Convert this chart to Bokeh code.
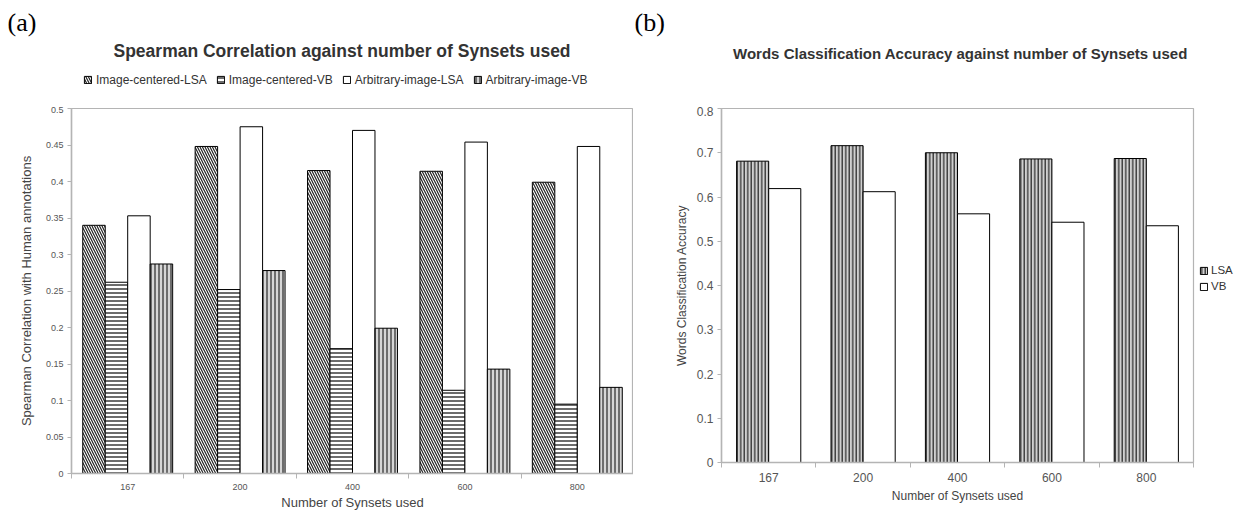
from bokeh.plotting import figure
from bokeh.models import Legend, LegendItem, Label, FixedTicker
from bokeh.layouts import row, column
from bokeh.embed import file_html
from bokeh.resources import INLINE

# ---------------- data ----------------
synsets = ["167", "200", "400", "600", "800"]

series_a = ["Image-centered-LSA", "Image-centered-VB", "Arbitrary-image-LSA", "Arbitrary-image-VB"]
img_lsa = [0.340, 0.448, 0.415, 0.414, 0.399]
img_vb = [0.262, 0.252, 0.171, 0.114, 0.095]
arb_lsa = [0.353, 0.475, 0.470, 0.454, 0.448]
arb_vb = [0.287, 0.278, 0.199, 0.143, 0.118]
y_ticks_a = [0, 0.05, 0.1, 0.15, 0.2, 0.25, 0.3, 0.35, 0.4, 0.45, 0.5]

series_b = ["LSA", "VB"]
acc_lsa = [0.681, 0.716, 0.700, 0.686, 0.687]
acc_vb = [0.619, 0.612, 0.562, 0.543, 0.535]
y_ticks_b = [0, 0.1, 0.2, 0.3, 0.4, 0.5, 0.6, 0.7, 0.8]

title_a = "Spearman Correlation against number of Synsets used"
title_b = "Words Classification Accuracy against number of Synsets used"
xlabel = "Number of Synsets used"
ylabel_a = "Spearman Correlation with Human annotations"
ylabel_b = "Words Classification Accuracy"

FONT = "Liberation Sans"
SERIF = "Liberation Serif"
GRAY = "#b4b4b4"
BASE = dict(output_backend="svg", toolbar_location=None, frame_align=False)

n = len(synsets)
cat_ticks = [i + 0.5 for i in range(n)]
cat_bounds = list(range(n + 1))
cat_labels = {i + 0.5: s for i, s in enumerate(synsets)}

HDR_H = 106      # height of the header strip holding titles / legend
W_A = 633        # width of chart (a)
W_B_MAIN = 562   # width of chart (b) plot
W_B_LEG = 1258 - W_A - W_B_MAIN
MAIN_H = 515 - HDR_H


def blank(width, height, xr, yr):
    p = figure(width=width, height=height, x_range=xr, y_range=yr,
               x_axis_type=None, y_axis_type=None,
               min_border_left=0, min_border_right=0, min_border_top=0, min_border_bottom=0, **BASE)
    p.outline_line_color = None
    p.xgrid.visible = False
    p.ygrid.visible = False
    return p


def style_axes(p, tick_font, xlab, ylab, label_font, yticks, ylab_standoff, xlab_standoff, xtick_standoff):
    p.xgrid.visible = False
    p.ygrid.visible = False
    p.outline_line_color = GRAY
    p.outline_line_width = 1.2
    for ax in (p.xaxis[0], p.yaxis[0]):
        ax.axis_line_color = GRAY
        ax.axis_line_width = 1.5
        ax.major_label_text_font = FONT
        ax.major_label_text_font_size = tick_font
        ax.major_label_text_color = "#555555"
        ax.axis_label_text_font = FONT
        ax.axis_label_text_font_size = label_font
        ax.axis_label_text_font_style = "normal"
        ax.axis_label_text_color = "#444444"
    xa = p.xaxis[0]
    xa.ticker = FixedTicker(ticks=cat_ticks, minor_ticks=cat_bounds)
    xa.major_label_overrides = cat_labels
    xa.major_tick_line_color = None
    xa.major_tick_out = 0
    xa.major_tick_in = 0
    xa.minor_tick_line_color = GRAY
    xa.minor_tick_out = 5
    xa.minor_tick_in = 0
    xa.major_label_standoff = xtick_standoff
    xa.axis_label = xlab
    xa.axis_label_standoff = xlab_standoff
    ya = p.yaxis[0]
    ya.ticker = FixedTicker(ticks=yticks, minor_ticks=[])
    ya.major_label_overrides = {t: f"{t:g}" for t in yticks}
    ya.major_tick_line_color = GRAY
    ya.major_tick_out = 4
    ya.major_tick_in = 0
    ya.minor_tick_line_color = None
    ya.major_label_standoff = 4
    ya.axis_label = ylab
    ya.axis_label_standoff = ylab_standoff


a_style = [
    dict(fill_color="white", hatch_pattern="\\", hatch_color="#222222", hatch_scale=5, hatch_weight=1.2),
    dict(fill_color="white", hatch_pattern="-", hatch_color="#3a3a3a", hatch_scale=4, hatch_weight=1.5),
    dict(fill_color="white"),
    dict(fill_color="#d6d6d6", hatch_pattern="|", hatch_color="#333333", hatch_scale=4, hatch_weight=1.3),
]
b_style = [
    dict(fill_color="#d0d0d0", hatch_pattern="|", hatch_color="#222222", hatch_scale=3.5, hatch_weight=1.2),
    dict(fill_color="white"),
]

LEG_COMMON = dict(glyph_width=9, glyph_height=9, label_height=9, padding=0, margin=0,
                  border_line_alpha=0, background_fill_alpha=0, inactive_fill_alpha=0,
                  label_text_font=FONT, label_text_color="#333333")

# ---------------- chart (a) ----------------
pa = figure(width=W_A, height=MAIN_H, x_range=(0, n), y_range=(0, 0.5),
            min_border_left=71, min_border_right=0, min_border_top=2, min_border_bottom=42, **BASE)
style_axes(pa, "9px", xlabel, ylabel_a, "13px", y_ticks_a, 9, 2, 5)

a_values = [img_lsa, img_vb, arb_lsa, arb_vb]
bw_a = 0.2
for k, (vals, st) in enumerate(zip(a_values, a_style)):
    xs = [i + 0.1 + bw_a * k + bw_a / 2 for i in range(n)]
    pa.vbar(x=xs, top=vals, width=bw_a, line_color="black", line_width=1, **st)

# header of (a): page-pixel coordinates (y downwards)
ha = blank(W_A, HDR_H, (0, W_A), (HDR_H, 0))
ha.add_layout(Label(x=7, y=7, text="(a)", text_font=SERIF, text_font_size="26px",
                    text_align="left", text_baseline="top", text_color="black"))
ha.add_layout(Label(x=113, y=50, text=title_a, text_font=FONT, text_font_size="17.5px",
                    text_font_style="bold", text_align="left", text_baseline="middle",
                    text_color="#333333"))
# legend swatches: hidden stand-in renderers carrying each series' style
a_items = []
for name, st in zip(series_a, a_style):
    r = ha.vbar(x=[10], top=[50], bottom=0, width=1, line_color="black", line_width=1,
                visible=False, **st)
    a_items.append(LegendItem(label=name, renderers=[r]))
ha.add_layout(Legend(items=a_items, orientation="horizontal", location=(83, 19.5),
                     label_standoff=4, spacing=9, label_text_font_size="12px",
                     **LEG_COMMON), "center")

# ---------------- chart (b) ----------------
pb = figure(width=W_B_MAIN, height=MAIN_H, x_range=(0, n), y_range=(0, 0.8),
            min_border_left=88, min_border_right=2, min_border_top=2, min_border_bottom=53, **BASE)
style_axes(pb, "12px", xlabel, ylabel_b, "12px", y_ticks_b, 5, 4, 5)

bw_b = 0.34
b_values = [acc_lsa, acc_vb]
for k, (vals, st) in enumerate(zip(b_values, b_style)):
    xs = [i + 0.16 + bw_b * k + bw_b / 2 for i in range(n)]
    pb.vbar(x=xs, top=vals, width=bw_b, line_color="black", line_width=1, **st)

hb = blank(1258 - W_A, HDR_H, (W_A, 1258), (HDR_H, 0))
hb.add_layout(Label(x=634, y=7, text="(b)", text_font=SERIF, text_font_size="26px",
                    text_align="left", text_baseline="top", text_color="black"))
hb.add_layout(Label(x=960, y=53, text=title_b, text_font=FONT, text_font_size="15px",
                    text_font_style="bold", text_align="center", text_baseline="middle",
                    text_color="#333333"))

lb = blank(W_B_LEG, MAIN_H, (0, 1), (0, 1))
b_items = []
for name, st in zip(series_b, b_style):
    r = lb.vbar(x=[0.5], top=[0.5], bottom=0, width=0.5, line_color="black", line_width=1,
                visible=False, **st)
    b_items.append(LegendItem(label=name, renderers=[r]))
lb.add_layout(Legend(items=b_items, orientation="vertical", location=(4, 223),
                     label_standoff=3, spacing=4, label_text_font_size="11.5px",
                     **LEG_COMMON), "center")

layout = row(column(ha, pa), column(hb, row(pb, lb)))
open("out.html", "w").write(file_html(layout, INLINE))
